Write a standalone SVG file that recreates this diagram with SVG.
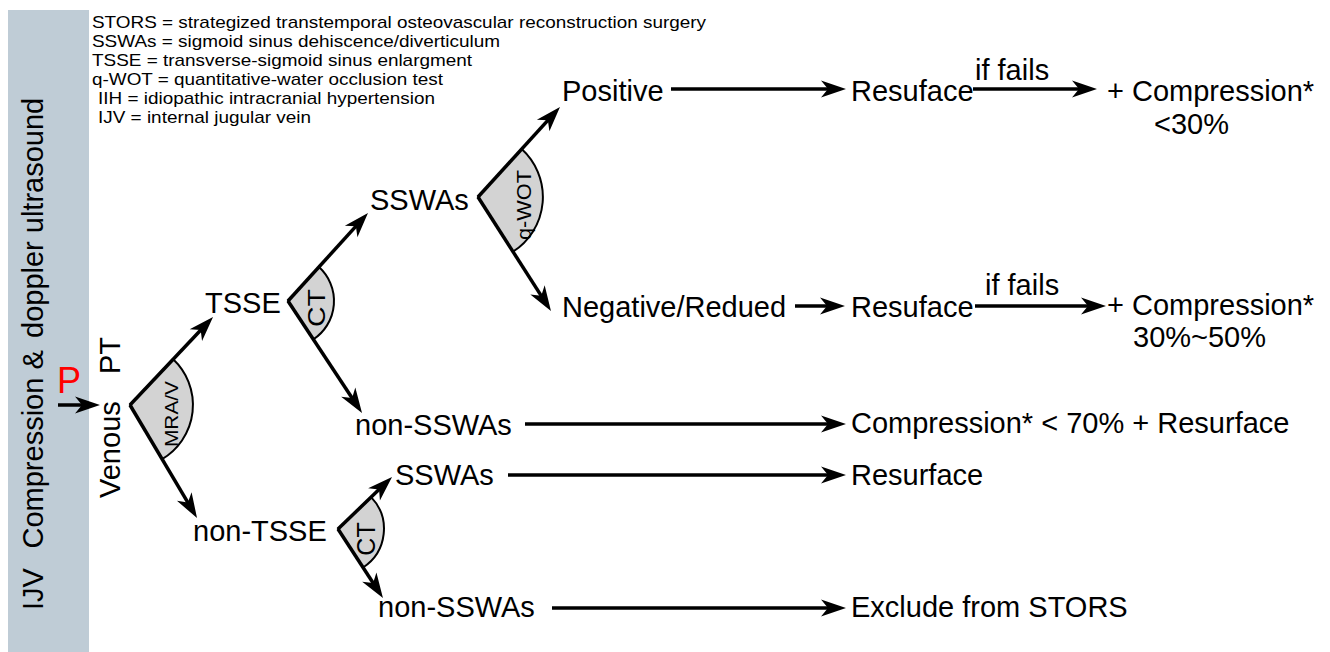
<svg xmlns="http://www.w3.org/2000/svg" width="1330" height="652" viewBox="0 0 1330 652">
<style>
text{font-family:"Liberation Sans",Arial,sans-serif;fill:#000}
.t{font-size:29px}
.leg{font-size:17px}
.lab{font-size:19px}
.conn{stroke:#000;stroke-width:3.5;fill:none;marker-end:url(#ah)}
.wedge{fill:#d3d3d3;stroke:#000;stroke-width:2}
</style>
<defs>
<marker id="ah" markerUnits="userSpaceOnUse" markerWidth="30" markerHeight="20" viewBox="-15 -10 30 20" refX="0" refY="0" orient="auto" overflow="visible">
<path d="M12,0 L-13,-8.5 L-6,0 L-13,8.5 Z" fill="#000"/>
</marker>
</defs>
<rect width="1330" height="652" fill="#fff"/>
<g id="sidebar">
<rect x="8" y="10" width="81" height="642" fill="#bfccd6"/>
<text class="t" transform="translate(43,610) rotate(-90)"><tspan x="0" y="0">IJV</tspan><tspan x="61.5" y="0">Compression &amp;</tspan><tspan x="272" y="0">doppler ultrasound</tspan></text>
</g>
<g id="legend" class="leg">
<text x="92" y="28" textLength="614" lengthAdjust="spacingAndGlyphs">STORS = strategized transtemporal osteovascular reconstruction surgery</text>
<text x="92" y="47" textLength="408" lengthAdjust="spacingAndGlyphs">SSWAs = sigmoid sinus dehiscence/diverticulum</text>
<text x="92" y="66" textLength="380" lengthAdjust="spacingAndGlyphs">TSSE = transverse-sigmoid sinus enlargment</text>
<text x="92" y="85" textLength="351" lengthAdjust="spacingAndGlyphs">q-WOT = quantitative-water occlusion test</text>
<text x="98" y="104" textLength="337" lengthAdjust="spacingAndGlyphs">IIH = idiopathic intracranial hypertension</text>
<text x="98" y="123" textLength="213" lengthAdjust="spacingAndGlyphs">IJV = internal jugular vein</text>
</g>
<g id="wedges">
<path class="wedge" d="M130,405 L173.2,359.2 A63,63 0 0 1 162.1,459.2 Z"/>
<path class="wedge" d="M288,301 L319,267 A46,46 0 0 1 313.3,339.4 Z"/>
<path class="wedge" d="M478,197 L521.7,149 A65,65 0 0 1 513,251.7 Z"/>
<path class="wedge" d="M338,529 L371.1,497.1 A46,46 0 0 1 363.1,567.5 Z"/>
<text class="lab" transform="translate(178,414) rotate(-90)" text-anchor="middle" textLength="66" lengthAdjust="spacingAndGlyphs">MRA/V</text>
<text transform="translate(325,308) rotate(-90)" text-anchor="middle" font-size="24" textLength="38" lengthAdjust="spacingAndGlyphs">CT</text>
<text transform="translate(531,205) rotate(-90)" text-anchor="middle" font-size="21" textLength="70" lengthAdjust="spacingAndGlyphs">q-WOT</text>
<text transform="translate(375,539) rotate(-90)" text-anchor="middle" font-size="25">CT</text>
</g>
<g id="connectors">
<path class="conn" d="M58,405 H88"/>
<path class="conn" d="M130,405 L204.8,325.7"/>
<path class="conn" d="M130,405 L190.9,507.7"/>
<path class="conn" d="M288,301 L359.9,221.9"/>
<path class="conn" d="M288,301 L355.4,403"/>
<path class="conn" d="M478,197 L551.9,115.9"/>
<path class="conn" d="M478,197 L544.5,300.9"/>
<path class="conn" d="M338,529 L383.4,485.3"/>
<path class="conn" d="M338,529 L376.4,588"/>
<path class="conn" d="M671,89 H834"/>
<path class="conn" d="M973,89 H1085"/>
<path class="conn" d="M795,306 H833"/>
<path class="conn" d="M975,306 H1094"/>
<path class="conn" d="M525,424 H834"/>
<path class="conn" d="M508,475 H834"/>
<path class="conn" d="M552,608 H834"/>
</g>
<g id="node-p"><text x="57" y="393" font-size="36" fill="#ff0000" style="fill:#ff0000">P</text></g>
<g id="node-venous"><text class="t" transform="translate(120,498) rotate(-90)"><tspan x="0" y="0">Venous</tspan><tspan x="124" y="0">PT</tspan></text></g>
<g id="node-tsse"><text class="t" x="205" y="313">TSSE</text></g>
<g id="node-nontsse"><text class="t" x="193" y="541">non-TSSE</text></g>
<g id="node-sswas1"><text class="t" x="370" y="210">SSWAs</text></g>
<g id="node-nonsswas1"><text class="t" x="355" y="435">non-SSWAs</text></g>
<g id="node-sswas2"><text class="t" x="395" y="485">SSWAs</text></g>
<g id="node-nonsswas2"><text class="t" x="378" y="617">non-SSWAs</text></g>
<g id="node-positive"><text class="t" x="562" y="101">Positive</text></g>
<g id="node-negative"><text class="t" x="562" y="317">Negative/Redued</text></g>
<g id="node-resuface1"><text class="t" x="851" y="101">Resuface</text></g>
<g id="node-resuface2"><text class="t" x="851" y="317">Resuface</text></g>
<g id="label-iffails1"><text class="t" x="975" y="80">if fails</text></g>
<g id="label-iffails2"><text class="t" x="985" y="295">if fails</text></g>
<g id="node-comp1"><text class="t" x="1107" y="101">+ Compression*</text><text class="t" x="1154" y="134">&lt;30%</text></g>
<g id="node-comp2"><text class="t" x="1107" y="315">+ Compression*</text><text class="t" x="1133" y="347">30%~50%</text></g>
<g id="node-comp3"><text class="t" x="851" y="433">Compression* &lt; 70% + Resurface</text></g>
<g id="node-resurface"><text class="t" x="851" y="485">Resurface</text></g>
<g id="node-exclude"><text class="t" x="851" y="617">Exclude from STORS</text></g>
</svg>
